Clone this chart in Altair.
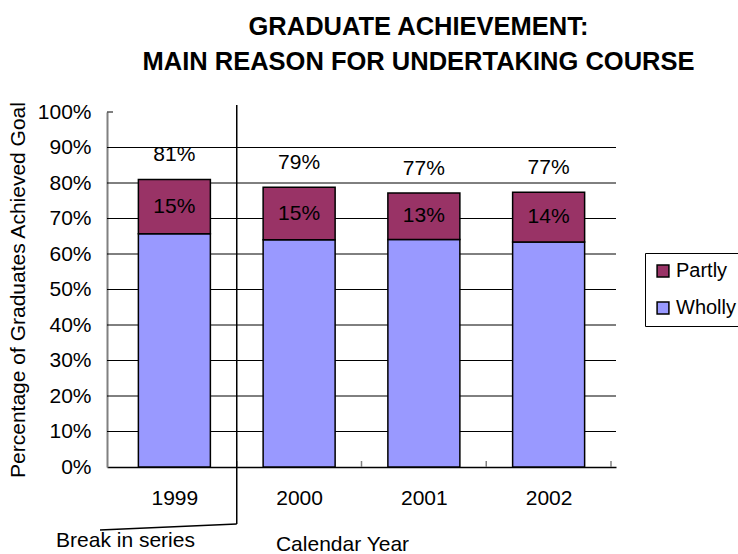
import altair as alt
import pandas as pd

years = [1999, 2000, 2001, 2002]
wholly = [65.7, 64.0, 64.1, 63.4]
partly = [15.3, 14.8, 13.1, 14.0]
series_names = ["Partly", "Wholly"]
series_colors = ["#993366", "#9999FF"]
y_ticks = [0, 10, 20, 30, 40, 50, 60, 70, 80, 90, 100]
grid_vals = [10, 20, 30, 40, 50, 60, 70, 80, 90]
x_ticks = [1999.5, 2000.5, 2001.5, 2002.5]
break_year = 1999.5

FONT = "Liberation Sans"
W, H = 509, 355

rows = []
for yr, w, p in zip(years, wholly, partly):
    rows.append({"year": yr, "series": "Wholly", "value": w, "ord": 0})
    rows.append({"year": yr, "series": "Partly", "value": p, "ord": 1})
long_df = pd.DataFrame(rows)
lab_df = pd.DataFrame({"year": years, "wholly": wholly, "partly": partly})

xscale = alt.Scale(domain=[1998.5, 2002.5], nice=False, zero=False)
yscale = alt.Scale(domain=[0, 100], nice=False)

xaxis = alt.Axis(values=years, format="d", title="Calendar Year", ticks=False,
                 grid=False, labelFontSize=21, labelFont=FONT, labelColor="black",
                 labelPadding=20, labelOverlap=False, labelFlush=False,
                 domainColor="black", domainWidth=1.5,
                 titleFont=FONT, titleFontSize=21, titleFontWeight="normal",
                 titleColor="black", titleX=235, titleY=66, titleBaseline="top")
yaxis = alt.Axis(values=y_ticks, labelExpr="datum.value + '%'", ticks=False, grid=False,
                 title="Percentage of Graduates Achieved Goal", labelFontSize=21,
                 labelFont=FONT, labelColor="black", labelPadding=16,
                 labelOverlap=False, labelFlush=False,
                 domainColor="#808080", domainWidth=2, titleFont=FONT,
                 titleFontSize=21, titleFontWeight="normal", titleColor="black",
                 titlePadding=9)

grid = alt.Chart(pd.DataFrame({"g": grid_vals})).mark_rule(color="black", strokeWidth=1).encode(
    y=alt.Y("g:Q", scale=yscale, axis=yaxis), x=alt.value(0), x2=alt.value(W)
)
top_tick = alt.Chart(pd.DataFrame({"g": [100]})).mark_rule(color="black", strokeWidth=1).encode(
    y=alt.Y("g:Q", scale=yscale, axis=yaxis), x=alt.value(0), x2=alt.value(6)
)
xt = alt.Chart(pd.DataFrame({"t": x_ticks})).mark_rule(color="#808080", strokeWidth=1.5).encode(
    x=alt.X("t:Q", scale=xscale, axis=xaxis), y=alt.value(H), y2=alt.value(H - 6)
)

bars = alt.Chart(long_df).mark_bar(size=72, stroke="black", strokeWidth=1.5).encode(
    x=alt.X("year:Q", scale=xscale, axis=xaxis),
    y=alt.Y("value:Q", scale=yscale, stack="zero", axis=yaxis),
    fill=alt.Fill("series:N", scale=alt.Scale(domain=series_names, range=series_colors),
                  legend=alt.Legend(title=None, orient="none", legendX=538, legendY=141,
                                    symbolType="square", symbolSize=140,
                                    symbolStrokeColor="black", symbolStrokeWidth=1.5,
                                    labelFont=FONT, labelFontSize=20, labelColor="black",
                                    strokeColor="black", padding=8, rowPadding=17,
                                    labelOffset=3)),
    order=alt.Order("ord:Q"),
)

mid_text = alt.Chart(lab_df).transform_calculate(
    mid="datum.wholly + datum.partly / 2",
    lbl="format(datum.partly, '.0f') + '%'",
).mark_text(font=FONT, fontSize=21, color="black", baseline="middle").encode(
    x=alt.X("year:Q", scale=xscale, axis=xaxis),
    y=alt.Y("mid:Q", scale=yscale, axis=yaxis),
    text="lbl:N",
)

tot_text = alt.Chart(lab_df).transform_calculate(
    tot="datum.wholly + datum.partly",
    lbl="format(datum.wholly + datum.partly, '.0f') + '%'",
).mark_text(font=FONT, fontSize=21, color="black", baseline="middle", dy=-24).encode(
    x=alt.X("year:Q", scale=xscale, axis=xaxis),
    y=alt.Y("tot:Q", scale=yscale, axis=yaxis),
    text="lbl:N",
)

brk = alt.Chart(pd.DataFrame({"b": [break_year]})).mark_rule(color="black", strokeWidth=1.5).encode(
    x=alt.X("b:Q", scale=xscale, axis=xaxis), y=alt.value(-7), y2=alt.value(H + 57)
)
brk_diag = alt.Chart(pd.DataFrame({"b": [break_year]})).mark_rule(color="black", strokeWidth=1.5).encode(
    x=alt.X("b:Q", scale=xscale, axis=xaxis), x2=alt.value(-7), y=alt.value(H + 57), y2=alt.value(H + 63)
)
brk_text = alt.Chart(pd.DataFrame({"t": ["Break in series"]})).mark_text(
    font=FONT, fontSize=21, color="black", align="center", baseline="middle"
).encode(x=alt.value(18.5), y=alt.value(H + 74), text="t:N")

chart = alt.layer(grid, top_tick, bars, xt, mid_text, tot_text, brk, brk_diag, brk_text).properties(
    width=W, height=H,
    title=alt.TitleParams(["GRADUATE ACHIEVEMENT:", "MAIN REASON FOR UNDERTAKING COURSE"],
                          font=FONT, fontSize=25.5, fontWeight="bold", color="black",
                          anchor="middle", dx=57, offset=25, lineHeight=35),
    autosize=alt.AutoSizeParams(type="none"),
    padding={"left": 107, "top": 112, "right": 122, "bottom": 87},
).configure_view(stroke=None)

chart.save("out.html", embed_options={"renderer": "svg", "actions": False})
